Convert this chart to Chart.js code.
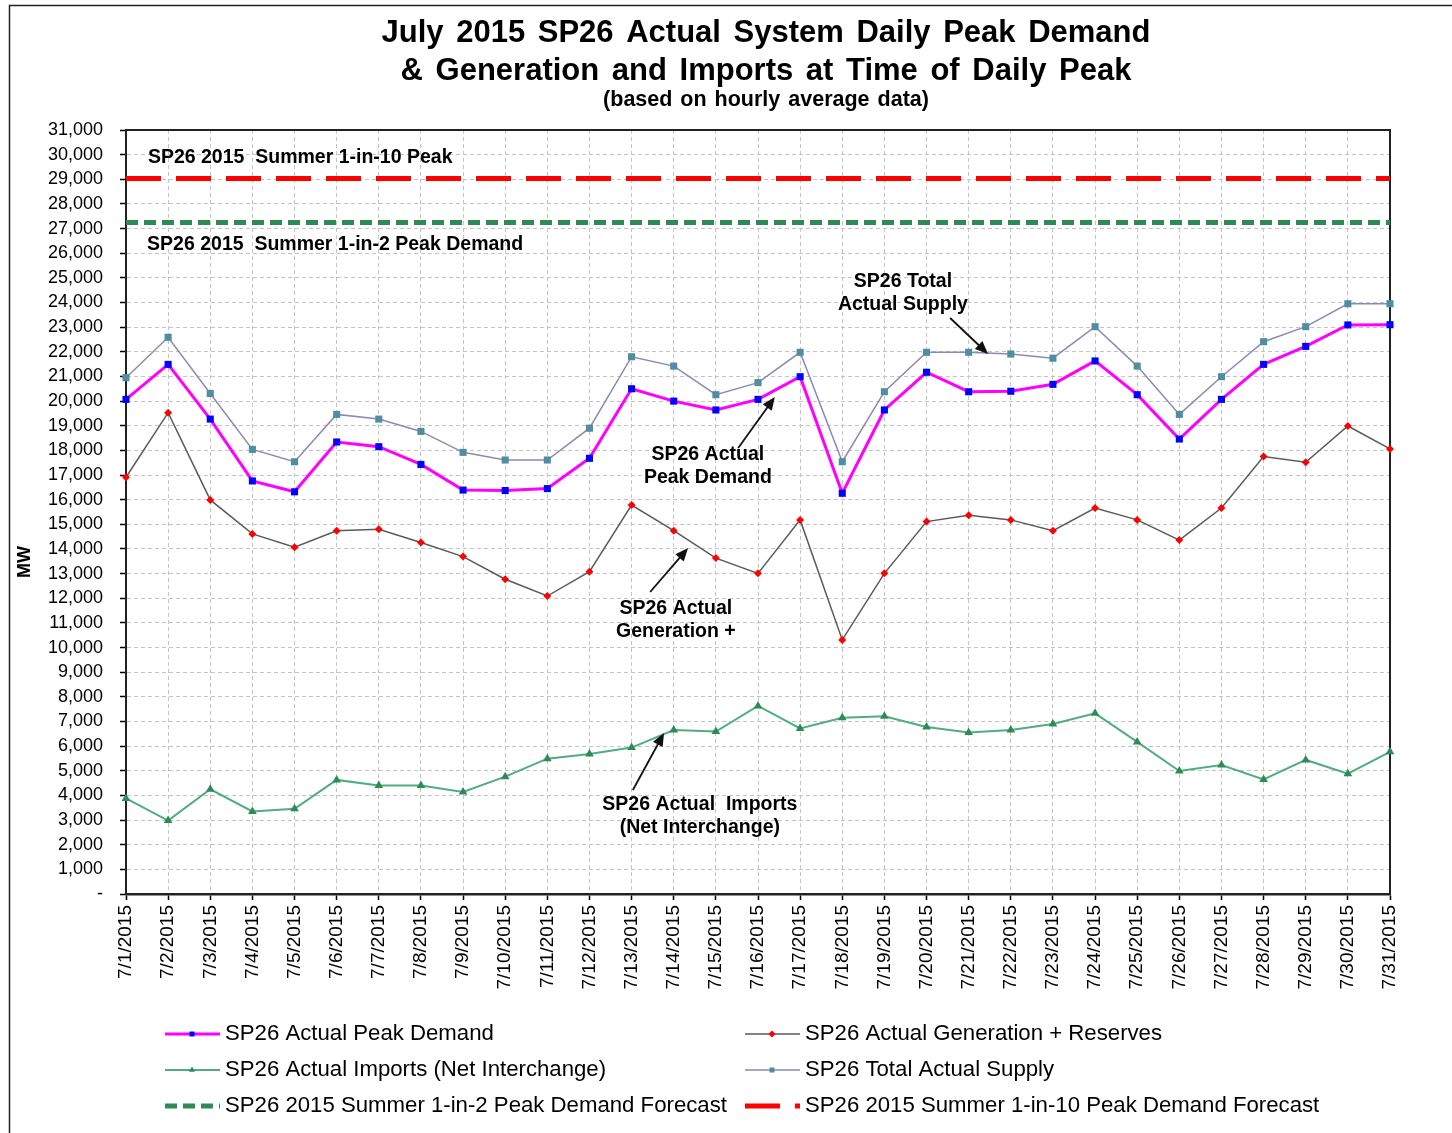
<!DOCTYPE html>
<html>
<head>
<meta charset="utf-8">
<title>July 2015 SP26 Actual System Daily Peak Demand</title>
<script src="https://cdn.jsdelivr.net/npm/chart.js@4.4.0/dist/chart.umd.min.js"></script>
<style>
  html, body { margin: 0; padding: 0; background: #fff; }
  #contenedor { position: absolute; left: 0; top: 0; width: 1452px; height: 1133px; }
</style>
</head>
<body>
<div id="contenedor"><canvas id="grafico"></canvas></div>
<script>
// Datos (MW)
var dias = ['7/1/2015', '7/2/2015', '7/3/2015', '7/4/2015', '7/5/2015', '7/6/2015', '7/7/2015', '7/8/2015',
            '7/9/2015', '7/10/2015', '7/11/2015', '7/12/2015', '7/13/2015', '7/14/2015', '7/15/2015', '7/16/2015',
            '7/17/2015', '7/18/2015', '7/19/2015', '7/20/2015', '7/21/2015', '7/22/2015', '7/23/2015', '7/24/2015',
            '7/25/2015', '7/26/2015', '7/27/2015', '7/28/2015', '7/29/2015', '7/30/2015', '7/31/2015'];

var demandaPico = [20070, 21490, 19270, 16760, 16320, 18340, 18150, 17430, 16390, 16370, 16450, 17680, 20500, 20000, 19640, 20070,
                   20990, 16260, 19640, 21170, 20380, 20400, 20680, 21630, 20260, 18460, 20070, 21490, 22220, 23090, 23100];

var generacionReservas = [16910, 19530, 15990, 14610, 14070, 14740, 14800, 14260, 13690, 12770, 12090, 13080, 15780, 14740, 13630, 13010,
                          15180, 10310, 13010, 15110, 15370, 15180, 14740, 15660, 15180, 14360, 15660, 17750, 17520, 18990, 18060];

var importaciones = [3880, 2980, 4250, 3350, 3460, 4630, 4400, 4400, 4140, 4760, 5490, 5680, 5940, 6650, 6590, 7630,
                     6720, 7150, 7210, 6780, 6550, 6650, 6900, 7330, 6170, 4990, 5230, 4650, 5440, 4880, 5770];

var suministroTotal = [20950, 22590, 20310, 18040, 17540, 19460, 19270, 18770, 17920, 17610, 17610, 18900, 21800, 21420, 20260, 20750,
                       21980, 17540, 20380, 21980, 21980, 21910, 21740, 23020, 21420, 19460, 20990, 22410, 23020, 23950, 23950];

// Pronósticos (líneas horizontales)
var pronostico1en2 = 27250;
var pronostico1en10 = 29030;

// Eje Y
var ejeYMin = 0;
var ejeYMax = 31000;
var ejeYPaso = 1000;

var FUENTE = 'Arial, "Liberation Sans", sans-serif';

// Notas sobre el gráfico (x = índice del día, y = MW)
var notas = [
    { lineas: ['SP26 2015  Summer 1-in-10 Peak'], x: 0.52, y: 29865, alinear: 'left' },
    { lineas: ['SP26 2015  Summer 1-in-2 Peak Demand'], x: 0.50, y: 26334, alinear: 'left' },
    { lineas: ['SP26 Total', 'Actual Supply'], x: 18.44, y: 24833, alinear: 'center', flecha: [19.56, 23372, 20.46, 21911] },
    { lineas: ['SP26 Actual', 'Peak Demand'], x: 13.81, y: 17813, alinear: 'center', flecha: [14.53, 18097, 15.40, 20166] },
    { lineas: ['SP26 Actual', 'Generation +'], x: 13.05, y: 11564, alinear: 'center', flecha: [12.44, 12254, 13.34, 14039] },
    { lineas: ['SP26 Actual  Imports', '(Net Interchange)'], x: 13.62, y: 3611, alinear: 'center', flecha: [12.03, 4220, 12.77, 6533] }
];

function constante(valor) {
    return dias.map(function() { return valor; });
}

// Marco exterior y borde del área de trazado
var marco = {
    id: 'marco',
    beforeDraw: function(chart) {
        var ctx = chart.ctx;
        ctx.save();
        ctx.fillStyle = '#fff';
        ctx.fillRect(0, 0, chart.width, chart.height);
        ctx.strokeStyle = '#222';
        ctx.lineWidth = 1.5;
        ctx.beginPath();
        ctx.moveTo(9.5, chart.height);
        ctx.lineTo(9.5, 5.5);
        ctx.lineTo(chart.width, 5.5);
        ctx.stroke();
        ctx.restore();
    },
    beforeDatasetsDraw: function(chart) {
        var a = chart.chartArea, ctx = chart.ctx;
        ctx.save();
        ctx.strokeStyle = '#222';
        ctx.lineWidth = 2;
        ctx.beginPath();
        ctx.moveTo(a.left, a.top);
        ctx.lineTo(a.right, a.top);
        ctx.lineTo(a.right, a.bottom);
        ctx.stroke();
        ctx.restore();
    }
};

// Títulos, etiqueta MW y notas con flechas
var textos = {
    id: 'textos',
    afterDraw: function(chart) {
        var ctx = chart.ctx;
        var sx = chart.scales.x, sy = chart.scales.y;
        ctx.save();
        ctx.fillStyle = '#000';
        ctx.textBaseline = 'middle';
        ctx.textAlign = 'center';
        if ('wordSpacing' in ctx) ctx.wordSpacing = '4px';
        ctx.font = 'bold 31px ' + FUENTE;
        ctx.fillText('July 2015 SP26 Actual System Daily Peak Demand', 766, 33);
        ctx.fillText('& Generation and Imports at Time of Daily Peak', 766, 71);
        ctx.font = 'bold 21.5px ' + FUENTE;
        if ('wordSpacing' in ctx) ctx.wordSpacing = '2px';
        ctx.fillText('(based on hourly average data)', 766, 100);
        if ('wordSpacing' in ctx) ctx.wordSpacing = '0px';

        // etiqueta del eje Y
        ctx.save();
        ctx.translate(25, 562);
        ctx.rotate(-Math.PI / 2);
        ctx.font = 'bold 18px ' + FUENTE;
        ctx.fillText('MW', 0, 0);
        ctx.restore();

        ctx.font = 'bold 19.5px ' + FUENTE;
        notas.forEach(function(n) {
            var px = sx.getPixelForValue(n.x), py = sy.getPixelForValue(n.y);
            ctx.textAlign = n.alinear;
            n.lineas.forEach(function(t, i) {
                ctx.fillText(t, px, py + i * 23);
            });
            if (n.flecha) {
                var x1 = sx.getPixelForValue(n.flecha[0]), y1 = sy.getPixelForValue(n.flecha[1]);
                var x2 = sx.getPixelForValue(n.flecha[2]), y2 = sy.getPixelForValue(n.flecha[3]);
                var ang = Math.atan2(y2 - y1, x2 - x1);
                ctx.strokeStyle = '#111';
                ctx.lineWidth = 1.8;
                ctx.beginPath();
                ctx.moveTo(x1, y1);
                ctx.lineTo(x2 - 8 * Math.cos(ang), y2 - 8 * Math.sin(ang));
                ctx.stroke();
                ctx.fillStyle = '#111';
                ctx.beginPath();
                ctx.moveTo(x2, y2);
                ctx.lineTo(x2 - 13 * Math.cos(ang) + 5.5 * Math.sin(ang), y2 - 13 * Math.sin(ang) - 5.5 * Math.cos(ang));
                ctx.lineTo(x2 - 13 * Math.cos(ang) - 5.5 * Math.sin(ang), y2 - 13 * Math.sin(ang) + 5.5 * Math.cos(ang));
                ctx.closePath();
                ctx.fill();
                ctx.fillStyle = '#000';
            }
        });
        ctx.restore();
    }
};

// Leyenda en dos columnas
var leyenda = {
    id: 'leyenda',
    afterDraw: function(chart) {
        var ctx = chart.ctx;
        var columnas = [165, 745];
        var filas = [1034, 1070, 1106];
        chart.data.datasets.forEach(function(ds, i) {
            var x0 = columnas[i % 2], y = filas[Math.floor(i / 2)];
            ctx.save();
            ctx.strokeStyle = ds.borderColor;
            ctx.lineWidth = ds.borderWidth;
            ctx.setLineDash(ds.borderDash || []);
            ctx.beginPath();
            ctx.moveTo(x0, y);
            ctx.lineTo(x0 + 55, y);
            ctx.stroke();
            ctx.setLineDash([]);
            if (ds.pointRadius > 0) {
                ctx.fillStyle = ds.pointBackgroundColor;
                ctx.strokeStyle = ds.pointBorderColor;
                Chart.helpers.drawPoint(ctx, { pointStyle: ds.pointStyle, radius: 3.5, rotation: 0, borderWidth: 0 }, x0 + 27, y);
            }
            ctx.fillStyle = '#000';
            ctx.font = '22.2px ' + FUENTE;
            ctx.textBaseline = 'middle';
            ctx.textAlign = 'left';
            ctx.fillText(ds.label, x0 + 60, y);
            ctx.restore();
        });
    }
};

var ctx = document.getElementById('grafico').getContext('2d');
var grafico = new Chart(ctx, {
    type: 'line',
    data: {
        labels: dias,
        datasets: [{
            label: 'SP26 Actual Peak Demand',
            data: demandaPico,
            borderColor: '#ff00ff',
            borderWidth: 3,
            pointStyle: 'rect',
            pointRadius: 5,
            pointBackgroundColor: '#0000ff',
            pointBorderColor: '#0000ff',
            pointBorderWidth: 0,
            order: 0
        }, {
            label: 'SP26 Actual Generation + Reserves',
            data: generacionReservas,
            borderColor: '#5a5a5a',
            borderWidth: 1.5,
            pointStyle: 'rectRot',
            pointRadius: 4,
            pointBackgroundColor: '#ff0000',
            pointBorderColor: '#ff0000',
            pointBorderWidth: 0,
            order: 2
        }, {
            label: 'SP26 Actual Imports (Net Interchange)',
            data: importaciones,
            borderColor: '#4fae7f',
            borderWidth: 2,
            pointStyle: 'triangle',
            pointRadius: 5,
            pointBackgroundColor: '#2e8b57',
            pointBorderColor: '#2e8b57',
            pointBorderWidth: 0,
            order: 3
        }, {
            label: 'SP26 Total Actual Supply',
            data: suministroTotal,
            borderColor: '#8a8ab2',
            borderWidth: 1.5,
            pointStyle: 'rect',
            pointRadius: 5,
            pointBackgroundColor: '#4f8ea0',
            pointBorderColor: '#4f8ea0',
            pointBorderWidth: 0,
            order: 1
        }, {
            label: 'SP26 2015 Summer 1-in-2 Peak Demand Forecast',
            data: constante(pronostico1en2),
            borderColor: '#2e8b57',
            borderWidth: 5,
            borderDash: [12, 6],
            pointRadius: 0,
            order: 5
        }, {
            label: 'SP26 2015 Summer 1-in-10 Peak Demand Forecast',
            data: constante(pronostico1en10),
            borderColor: '#ff0000',
            borderWidth: 5,
            borderDash: [35, 15],
            pointRadius: 0,
            order: 4
        }]
    },
    options: {
        responsive: true,
        maintainAspectRatio: false,
        animation: false,
        events: [],
        layout: { padding: { top: 130, right: 62, bottom: 139, left: 0 } },
        elements: { line: { tension: 0 } },
        plugins: {
            legend: { display: false },
            tooltip: { enabled: false },
            title: { display: false }
        },
        scales: {
            x: {
                offset: false,
                afterFit: function(scale) { scale.height = 100; },
                grid: { color: '#c4c4c4', lineWidth: 1, tickLength: 6, tickColor: '#000', tickWidth: 1.5 },
                border: { display: true, color: '#222', width: 2.5, dash: [4, 3] },
                ticks: {
                    autoSkip: false,
                    maxRotation: 90,
                    minRotation: 90,
                    padding: 5,
                    color: '#000',
                    font: { family: FUENTE, size: 19 }
                }
            },
            y: {
                min: ejeYMin,
                max: ejeYMax,
                afterFit: function(scale) { scale.width = 126; },
                grid: { color: '#c4c4c4', lineWidth: 1, tickLength: 6, tickColor: '#000', tickWidth: 1.5 },
                border: { display: true, color: '#222', width: 2, dash: [4, 3] },
                ticks: {
                    stepSize: ejeYPaso,
                    autoSkip: false,
                    padding: 17,
                    color: '#000',
                    font: { family: FUENTE, size: 18 },
                    callback: function(v) { return v === 0 ? '-' : v.toLocaleString('en-US'); }
                }
            }
        }
    },
    plugins: [marco, textos, leyenda]
});
</script>
</body>
</html>
